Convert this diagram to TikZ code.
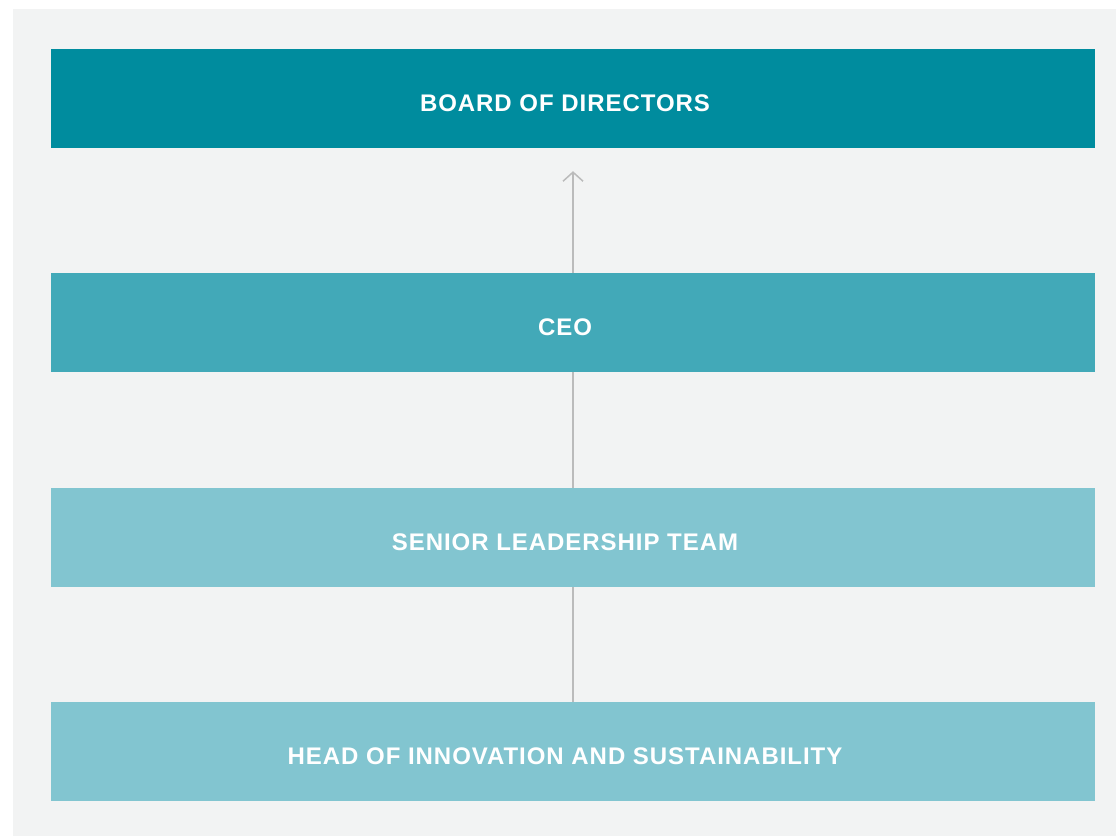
\documentclass[tikz,border=0pt]{standalone}
\usepackage{fontspec}
\setmainfont{Liberation Sans}
\usetikzlibrary{arrows.meta}
\definecolor{bgray}{HTML}{F2F3F3}
\definecolor{tealdark}{HTML}{008C9E}
\definecolor{tealmid}{HTML}{42A9B8}
\definecolor{teallight}{HTML}{82C5D0}
\definecolor{linegray}{HTML}{BBBBBB}
\begin{document}
\begin{tikzpicture}[
    x=1pt,
    y=-1pt,
    unit/.style={
      minimum width=1044pt,
      minimum height=99pt,
      inner sep=0pt,
      text height=25.2pt,
      text depth=0pt,
      text=white,
      font=\fontsize{24}{28}\selectfont\bfseries\addfontfeature{LetterSpace=4},
      execute at end node={\hspace*{16pt}}
    },
    link/.style={
      draw=linegray,
      line width=2pt
    }
  ]
    \useasboundingbox (0, 0) rectangle (1116, 836);
    \fill[bgray] (13, 9) rectangle (1116, 836);

    \node[unit, fill=tealdark] (board) at (573, 98.5) {BOARD OF DIRECTORS};
    \node[unit, fill=tealmid] (ceo) at (573, 322.5) {CEO};
    \node[unit, fill=teallight] (slt) at (573, 537.5) {SENIOR LEADERSHIP TEAM};
    \node[unit, fill=teallight] (head) at (573, 751.5) {HEAD OF INNOVATION AND SUSTAINABILITY};

    \draw[link, -{Straight Barb[length=9pt, width=20pt, line width=1.5pt]}, shorten >=23pt] (ceo) to (board);
    \draw[link] (slt) to (ceo);
    \draw[link] (head) to (slt);

  \end{tikzpicture}
\end{document}
